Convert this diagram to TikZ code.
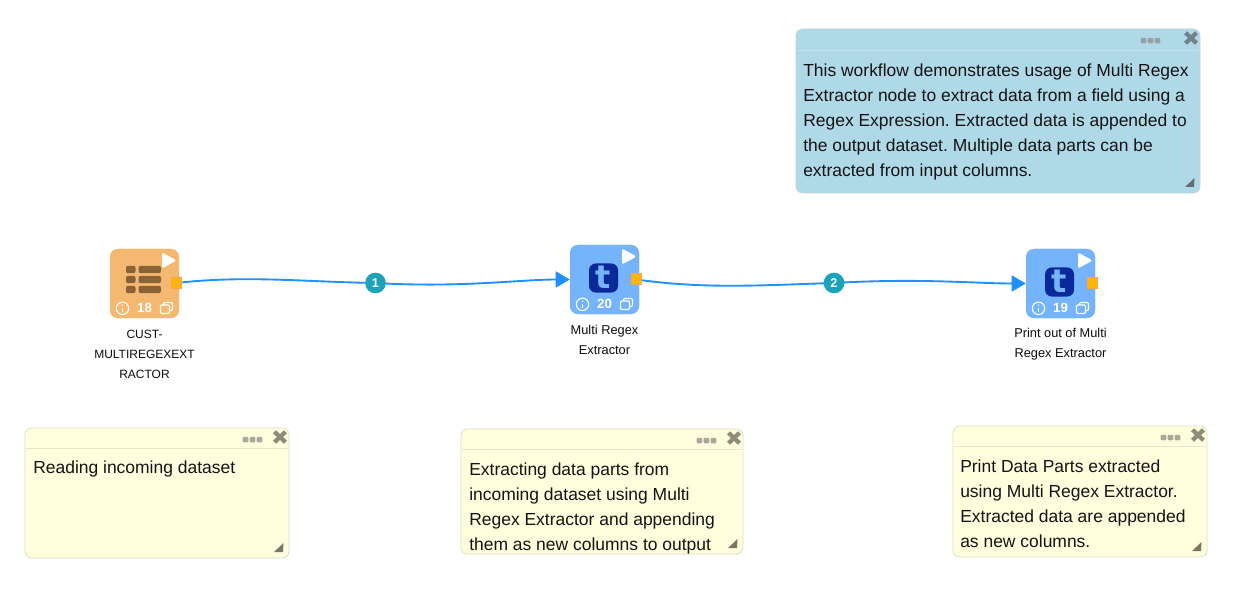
\documentclass[tikz,border=0pt]{standalone}
\usepackage{fontspec}
\setmainfont{Liberation Sans}
\newfontfamily\wfdeja{DejaVu Sans}
\frenchspacing
\usetikzlibrary{arrows.meta,calc}
\definecolor{nodeorange}{HTML}{F5B871}
\definecolor{iconbrown}{HTML}{8A6235}
\definecolor{nodeblue}{HTML}{75B4FB}
\definecolor{tbox}{HTML}{0A2A9B}
\definecolor{portfill}{HTML}{FFB703}
\definecolor{portedge}{HTML}{F7A35C}
\definecolor{edgeblue}{HTML}{1E90FF}
\definecolor{bubble}{HTML}{1BA3B9}
\definecolor{noteblue}{HTML}{B0D9E8}
\definecolor{noteyellow}{HTML}{FFFEDD}
\definecolor{noteedge}{HTML}{DEDEC4}
\definecolor{noteedgeb}{HTML}{C2D6DE}
\definecolor{headb}{HTML}{C4E3EE}
\definecolor{heady}{HTML}{E6E6C8}
\definecolor{ctrl}{HTML}{8C8C78}
\definecolor{ctrlb}{HTML}{70828A}
\tikzset{
 wfbox/.style={minimum width=51.75pt,minimum height=51.75pt,rounded corners=6pt,inner sep=0pt,fill=#1},
 wfport/.style={minimum width=8pt,minimum height=8pt,inner sep=0pt,fill=portfill,draw=portedge,line width=.6pt},
 wfnum/.style={font=\fontsize{10pt}{10pt}\selectfont\bfseries,text=white,inner sep=0pt},
 wflabel/.style={font=\fontsize{9pt}{15pt}\selectfont,text=black!95,align=center,inner sep=0pt},
 wflabelb/.style={wflabel,font=\fontsize{9.6pt}{15pt}\selectfont},
 wfnotebox/.style={rounded corners=5pt,line width=.6pt},
 wftext/.style={font=\fontsize{13.1pt}{18.7pt}\selectfont,text=black!92,align=left,inner sep=0pt,anchor=north west},
 wfedge/.style={draw=edgeblue,line width=1.4pt},
 wfbubble/.style={circle,fill=bubble,minimum size=15.5pt,inner sep=0pt,text=white,font=\fontsize{9.5pt}{9.5pt}\selectfont\bfseries},
 wftip/.style={-{Triangle[length=10.5pt,width=12pt,fill=edgeblue]}}
}
% name, x, y (box centre), fill, number
\newcommand{\wfnode}[5]{%
 \node[wfbox=#4] (#1) at (#2,#3) {};
 \begin{scope}[shift={(#2,#3)}]
  \fill[white,rounded corners=1.2pt] (17.5,-31) -- (32,-23) -- (17.5,-15) -- cycle;
  \node[wfport] (#1port) at (32,-.3) {};
  \draw[white,line width=.8pt] (-22,24.8) circle (6.2);
  \fill[white] (-22,21.6) circle (.8);
  \draw[white,line width=.9pt] (-22,24) -- (-22,28.4);
  \node[wfnum] (#1num) at (0,24.5) {#5};
  \draw[white,line width=.8pt,rounded corners=.8pt] (16,21.5) rectangle (25,30);
  \draw[white,line width=.8pt,rounded corners=.8pt] (19,21.5) -- (19,19) -- (28,19) -- (28,27) -- (25,27);
 \end{scope}}
% name, x1, y1, x2, y2, fill, edge, header, ctrl colour (\wfdots = dot offset, \wfhead = header height)
\newcommand{\wfnote}[9]{%
 \draw[wfnotebox,fill=#6,draw=#7] (#2,#3) rectangle (#4,#5) coordinate (#1corner);
 \draw[#8,line width=.75pt] (#2+1,#3+\wfhead) -- (#4-1,#3+\wfhead);
 \foreach \k in {0,7,14}{\fill[#9!75!white,rounded corners=.8pt] ($(#4,#3)+(\wfdots+\k-2.8,8.8)$) rectangle ++(5.6,5.6);}
 \draw[#9,line width=3.2pt] ($(#4,#3)+(-14.5,3.8)$) -- ($(#4,#3)+(-3.5,14.2)$);
 \draw[#9,line width=3.2pt] ($(#4,#3)+(-3.5,3.8)$) -- ($(#4,#3)+(-14.5,14.2)$);
 \fill[#9!85!black] ($(#4,#5)+(-15,-6)$) -- ($(#4,#5)+(-5.5,-15)$) -- ($(#4,#5)+(-6,-6)$) -- cycle;}
\begin{document}
\begin{tikzpicture}[x=.75pt,y=-.75pt]
\useasboundingbox (0,0) rectangle (1252,602);
\fill[white] (0,0) rectangle (1252,602);
% notes
\def\wfdots{-56.5}\def\wfhead{22}
\wfnote{na}{796}{29}{1200}{193}{noteblue}{noteedgeb}{headb}{ctrlb}
\node[wftext] (natext) at (803,63.5) {This workflow demonstrates usage of Multi Regex\\Extractor node to extract data from a field using a\\Regex Expression. Extracted data is appended to\\the output dataset. Multiple data parts can be\\extracted from input columns.};
\def\wfdots{-43.5}\def\wfhead{20}
\wfnote{nb}{25}{428}{289}{558}{noteyellow}{noteedge}{heady}{ctrl}
\node[wftext] (nbtext) at (33,460.5) {Reading incoming dataset};
\wfnote{nc}{461}{429}{743}{554}{noteyellow}{noteedge}{heady}{ctrl}
\node[wftext] (nctext) at (469,462.5) {Extracting data parts from\\incoming dataset using Multi\\Regex Extractor and appending\\them as new columns to output};
\wfnote{nd}{953}{426}{1207}{557}{noteyellow}{noteedge}{heady}{ctrl}
\node[wftext] (ndtext) at (960,459.5) {Print Data Parts extracted\\using Multi Regex Extractor.\\Extracted data are appended\\as new columns.};
% connectors underneath the nodes
\node[wfbox=nodeorange] (one) at (144.5,283.5) {};
\node[wfbox=nodeblue] (two) at (604.5,279.5) {};
\node[wfbox=nodeblue] (three) at (1060.5,283.5) {};
\coordinate (p1) at (176.5,283);
\coordinate (p2) at (636.5,279.5);
\draw[wfedge] (p1) .. controls +(70,-8) and +(-70,-1) .. (375.5,283) coordinate (m1);
\draw[wfedge,wftip] (m1) .. controls +(85,5) and +(-50,0) .. (two.west);
\draw[wfedge] (p2) .. controls +(70,10) and +(-70,2) .. (834,283) coordinate (m2);
\draw[wfedge,wftip] (m2) .. controls +(85,-5) and +(-50,0) .. (three.west);
\node[wfbubble] (b1) at (m1) {1};
\node[wfbubble] (b2) at (m2) {2};
% workflow nodes
\wfnode{one}{144.5}{283.5}{nodeorange}{18}
\wfnode{two}{604.5}{279.5}{nodeblue}{20}
\wfnode{three}{1060.5}{283.5}{nodeblue}{19}
% table icon
\foreach \r in {-14,-4,6}{
 \fill[iconbrown,rounded corners=1.5pt] (144.5-18.5,283.5+\r-3.6) rectangle ++(9.5,7.2);
 \fill[iconbrown,rounded corners=1.5pt] (144.5-6,283.5+\r-3.6) rectangle ++(22.5,7.2);
}
% t icons
\foreach \c/\yy/\n in {604.5/279.5/ta,1060.5/283.5/tb}{
 \fill[tbox,rounded corners=5pt] (\c-15.5,\yy-16) rectangle ++(29,29);
 \node[inner sep=0pt,text=nodeblue,font=\wfdeja\fontsize{24pt}{24pt}\selectfont\bfseries] (\n) at (\c-1,\yy-2) {t};
}
% labels
\node[wflabel] (l1) at (144.5,354.5) {CUST-\\MULTIREGEXEXT\\RACTOR};
\node[wflabelb] (l2) at (604.5,340) {Multi Regex\\Extractor};
\node[wflabelb] (l3) at (1060.5,344.5) {Print out of Multi\\Regex Extractor};
\end{tikzpicture}
\end{document}
